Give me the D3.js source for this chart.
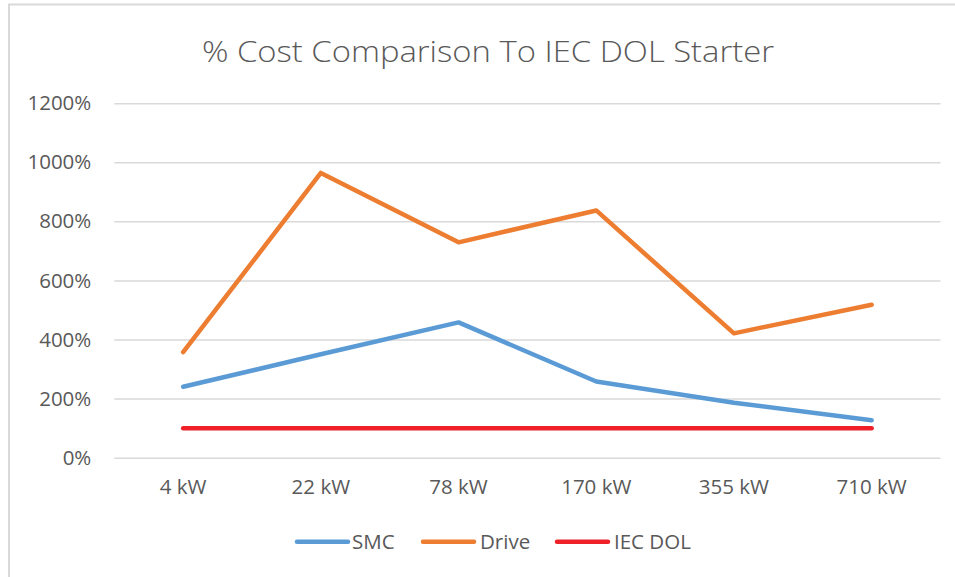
<!DOCTYPE html>
<html>
<head>
<meta charset="utf-8">
<script src="https://cdn.jsdelivr.net/npm/d3@7/dist/d3.min.js"></script>
<style>
  html, body { margin: 0; padding: 0; background: #fff; }
  svg { display: block; font-family: "Open Sans", "Noto Sans", sans-serif; }
</style>
</head>
<body>
<svg id="chart" width="955" height="577"></svg>
<script>
const title = "% Cost Comparison To IEC DOL Starter";
const categories = ["4 kW", "22 kW", "78 kW", "170 kW", "355 kW", "710 kW"];
const smcValues = [240, 350, 458, 258, 186, 127];
const driveValues = [357, 964, 729, 837, 421, 518];
const iecDolValues = [100, 100, 100, 100, 100, 100];
const yTicks = [0, 200, 400, 600, 800, 1000, 1200];
const seriesNames = ["SMC", "Drive", "IEC DOL"];
const seriesColors = ["#5B9BD5", "#ED7D31", "#EE2128"];

const series = [
  { name: seriesNames[0], values: smcValues, color: seriesColors[0] },
  { name: seriesNames[1], values: driveValues, color: seriesColors[1] },
  { name: seriesNames[2], values: iecDolValues, color: seriesColors[2] }
];

const svg = d3.select("#chart");
const W = 955, H = 577;
const plot = { left: 114.3, right: 940.5, top: 103.2, bottom: 457.7 };
const textColor = "#595959";
const labelSize = 20.5;

// chart border
svg.append("rect")
  .attr("x", 9).attr("y", 4.5)
  .attr("width", W + 10).attr("height", H + 10)
  .attr("fill", "#fff")
  .attr("stroke", "#D9D9D9").attr("stroke-width", 2);

// title
svg.append("text")
  .attr("x", 488).attr("y", 62)
  .attr("text-anchor", "middle")
  .attr("font-size", 30)
  .attr("font-weight", 300)
  .attr("fill", textColor)
  .attr("textLength", 572)
  .attr("lengthAdjust", "spacingAndGlyphs")
  .text(title);

const x = d3.scaleBand().domain(categories).range([plot.left, plot.right]);
const y = d3.scaleLinear().domain([0, 1200]).range([plot.bottom, plot.top]);
const cx = c => x(c) + x.bandwidth() / 2;

// gridlines + y labels
const yAxis = d3.axisLeft(y)
  .tickValues(yTicks)
  .tickSize(-(plot.right - plot.left))
  .tickPadding(23)
  .tickFormat(d => d + "%");
const gy = svg.append("g")
  .attr("transform", `translate(${plot.left},0)`)
  .call(yAxis);
gy.select(".domain").remove();
gy.selectAll(".tick line").attr("stroke", "#D9D9D9").attr("stroke-width", 1.5);
gy.selectAll(".tick text")
  .attr("fill", textColor)
  .attr("font-size", labelSize)
  .attr("font-family", "\"Open Sans\", sans-serif");

// x labels
const xAxis = d3.axisBottom(x).tickSize(0).tickPadding(22);
const gx = svg.append("g")
  .attr("transform", `translate(0,${plot.bottom})`)
  .call(xAxis);
gx.select(".domain").remove();
gx.selectAll(".tick text")
  .attr("fill", textColor)
  .attr("font-size", labelSize)
  .attr("font-family", "\"Open Sans\", sans-serif");

// lines
const line = d3.line()
  .x((d, i) => cx(categories[i]))
  .y(d => y(d));

svg.append("g").selectAll("path")
  .data(series.slice().reverse())
  .join("path")
  .attr("d", s => line(s.values))
  .attr("fill", "none")
  .attr("stroke", s => s.color)
  .attr("stroke-width", 4.5)
  .attr("stroke-linecap", "round")
  .attr("stroke-linejoin", "round");

// legend
const legendItems = [
  { x0: 297, tx: 352 },
  { x0: 423, tx: 480 },
  { x0: 557, tx: 614 }
];
const lg = svg.append("g");
series.forEach((s, i) => {
  const li = legendItems[i];
  lg.append("line")
    .attr("x1", li.x0).attr("x2", li.x0 + 51)
    .attr("y1", 541.7).attr("y2", 541.7)
    .attr("stroke", s.color).attr("stroke-width", 4.5)
    .attr("stroke-linecap", "round");
  lg.append("text")
    .attr("x", li.tx).attr("y", 541.7)
    .attr("dy", "0.35em")
    .attr("font-size", labelSize)
    .attr("fill", textColor)
    .text(s.name);
});
</script>
</body>
</html>
